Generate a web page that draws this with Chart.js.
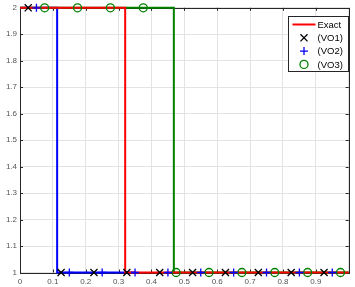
<!DOCTYPE html>
<html>
<head>
<meta charset="utf-8">
<script src="https://cdn.jsdelivr.net/npm/chart.js@4"></script>
<style>
  html, body { margin: 0; padding: 0; background: #fff; }
  #wrap { width: 355px; height: 287px; }
</style>
</head>
<body>
<div id="wrap"><canvas id="myChart" width="355" height="287"></canvas></div>
<script>
// data
const xTickLabels = ['0', '0.1', '0.2', '0.3', '0.4', '0.5', '0.6', '0.7', '0.8', '0.9', ''];
const yTickLabels = ['1', '1.1', '1.2', '1.3', '1.4', '1.5', '1.6', '1.7', '1.8', '1.9', '2'];

const exactX = [0, 0.32, 0.32, 1];
const exactY = [2, 2, 1, 1];
const blueX = [0, 0.113, 0.113, 0.35];
const blueY = [2, 2, 1, 1];
const greenX = [0, 0.468, 0.468, 1];
const greenY = [2, 2, 1, 1];

const vo1X = [0.025, 0.125, 0.225, 0.325, 0.425, 0.525, 0.625, 0.725, 0.825, 0.925];
const vo1Y = [2, 1, 1, 1, 1, 1, 1, 1, 1, 1];
const vo2X = [0.05, 0.15, 0.25, 0.35, 0.45, 0.55, 0.65, 0.75, 0.85, 0.95];
const vo2Y = [2, 1, 1, 1, 1, 1, 1, 1, 1, 1];
const vo3X = [0.075, 0.175, 0.275, 0.375, 0.475, 0.575, 0.675, 0.775, 0.875, 0.975];
const vo3Y = [2, 2, 2, 2, 1, 1, 1, 1, 1, 1];

const pts = (xs, ys) => xs.map((x, i) => ({ x: x, y: ys[i] }));
const FONT = '"Liberation Sans", Arial, sans-serif';
const AXIS = '#262626';

// MATLAB style box with inward ticks, drawn under the data
const boxPlugin = {
    id: 'box',
    beforeDatasetsDraw(chart) {
        const c = chart.ctx, a = chart.chartArea;
        const xs = chart.scales.x, ys = chart.scales.y;
        c.save();
        c.strokeStyle = AXIS;
        c.lineWidth = 1;
        c.beginPath();
        xs.ticks.forEach(t => {
            const px = Math.round(xs.getPixelForValue(t.value)) + 0.5;
            c.moveTo(px, a.bottom); c.lineTo(px, a.bottom - 3);
            c.moveTo(px, a.top); c.lineTo(px, a.top + 3);
        });
        ys.ticks.forEach(t => {
            const py = Math.round(ys.getPixelForValue(t.value)) + 0.5;
            c.moveTo(a.left, py); c.lineTo(a.left + 3, py);
            c.moveTo(a.right, py); c.lineTo(a.right - 3, py);
        });
        c.stroke();
        c.strokeRect(Math.round(a.left) + 0.5, Math.round(a.top) + 0.5,
            Math.round(a.right - a.left), Math.round(a.bottom - a.top));
        c.restore();
    }
};

// legend box in the upper right
const legendPlugin = {
    id: 'boxLegend',
    afterDraw(chart) {
        const c = chart.ctx;
        const bx = 288.5, by = 16.5, bw = 60, bh = 55;
        c.save();
        c.fillStyle = '#fff';
        c.fillRect(bx, by, bw, bh);
        c.strokeStyle = AXIS;
        c.lineWidth = 1;
        c.strokeRect(bx, by, bw, bh);
        c.font = '9.5px ' + FONT;
        c.textBaseline = 'middle';
        const rows = [
            { label: 'Exact', ds: 1 },
            { label: '(VO1)', ds: 3 },
            { label: '(VO2)', ds: 4 },
            { label: '(VO3)', ds: 5 }
        ];
        rows.forEach((r, i) => {
            const y = by + 8 + i * 13.3;
            const d = chart.data.datasets[r.ds];
            if (r.ds === 1) {
                c.strokeStyle = d.borderColor;
                c.lineWidth = 2;
                c.beginPath();
                c.moveTo(bx + 4, y); c.lineTo(bx + 27, y);
                c.stroke();
            } else {
                c.strokeStyle = d.borderColor;
                c.fillStyle = 'rgba(0,0,0,0)';
                c.lineWidth = d.pointBorderWidth;
                Chart.helpers.drawPoint(c, {
                    pointStyle: d.pointStyle,
                    radius: d.pointRadius,
                    borderWidth: d.pointBorderWidth
                }, bx + 15.5, y);
            }
            c.fillStyle = '#000';
            c.fillText(r.label, bx + 29, y + 0.5);
        });
        c.restore();
    }
};

const markerSet = (label, data, style, color, radius) => ({
    label: label,
    data: data,
    showLine: false,
    pointStyle: style,
    pointRadius: radius,
    pointBorderWidth: 1.3,
    borderColor: color,
    backgroundColor: 'rgba(0,0,0,0)',
    pointBackgroundColor: 'rgba(0,0,0,0)',
    clip: false,
    order: 0
});

const lineSet = (label, data, color, order) => ({
    label: label,
    data: data,
    borderColor: color,
    borderWidth: 2,
    pointRadius: 0,
    tension: 0,
    fill: false,
    clip: 2,
    order: order
});

const ctx = document.getElementById('myChart').getContext('2d');
const myChart = new Chart(ctx, {
    type: 'line',
    data: {
        datasets: [
            lineSet('blue', pts(blueX, blueY), '#0000ff', 3),
            lineSet('Exact', pts(exactX, exactY), '#ff0000', 1),
            lineSet('green', pts(greenX, greenY), '#008000', 2),
            markerSet('(VO1)', pts(vo1X, vo1Y), 'crossRot', '#000000', 5),
            markerSet('(VO2)', pts(vo2X, vo2Y), 'cross', '#0000ff', 4),
            markerSet('(VO3)', pts(vo3X, vo3Y), 'circle', '#008000', 4)
        ]
    },
    options: {
        responsive: false,
        animation: false,
        events: [],
        layout: { padding: { top: 7, right: 0, left: 0, bottom: 0 } },
        plugins: {
            legend: { display: false },
            tooltip: { enabled: false }
        },
        scales: {
            x: {
                type: 'linear',
                min: 0,
                max: 1,
                border: { display: false },
                grid: { color: '#e3e3e3', drawTicks: false },
                ticks: {
                    stepSize: 0.1,
                    padding: 4,
                    maxRotation: 0,
                    autoSkip: false,
                    color: '#555',
                    font: { size: 8, family: FONT },
                    callback: (v, i) => xTickLabels[i]
                },
                afterFit: s => { s.height = 14.5; }
            },
            y: {
                type: 'linear',
                min: 1,
                max: 2,
                border: { display: false },
                grid: { color: '#e3e3e3', drawTicks: false },
                ticks: {
                    stepSize: 0.1,
                    padding: 3,
                    autoSkip: false,
                    color: '#555',
                    font: { size: 8, family: FONT },
                    callback: (v, i) => yTickLabels[i]
                },
                afterFit: s => { s.width = 20; }
            }
        }
    },
    plugins: [boxPlugin, legendPlugin]
});
</script>
</body>
</html>
